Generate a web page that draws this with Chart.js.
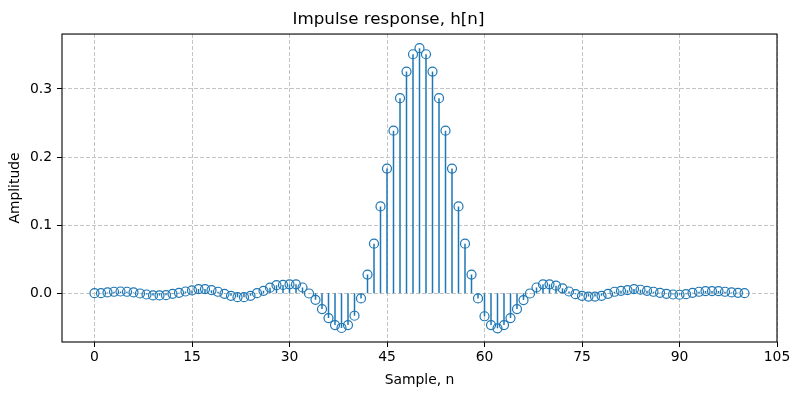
<!DOCTYPE html>
<html>
<head>
<meta charset="utf-8">
<script src="https://cdn.jsdelivr.net/npm/chart.js@4.4.0/dist/chart.umd.min.js"></script>
<style>html,body{margin:0;padding:0;background:#fff}canvas{display:block}</style>
</head>
<body>
<canvas id="c" width="800" height="400" style="width:800px;height:400px"></canvas>
<script>
// sample index n = 0..100
const samples = Array.from({length: 101}, (_, i) => i);
// h[n]
const amplitude = [
  0.0000, 0.0000, 0.0010, 0.0020, 0.0024, 0.0020, 0.0010, -0.0005, -0.0020, -0.0034,
  -0.0034, -0.0030, -0.0010, 0.0005, 0.0024, 0.0040, 0.0060, 0.0060, 0.0044, 0.0020,
  -0.0010, -0.0040, -0.0060, -0.0060, -0.0040, 0.0000, 0.0034, 0.0080, 0.0117, 0.0120,
  0.0130, 0.0130, 0.0083, -0.0005, -0.0098, -0.0234, -0.0366, -0.0469, -0.0512, -0.0469,
  -0.0332, -0.0078, 0.0272, 0.0727, 0.1274, 0.1830, 0.2387, 0.2865, 0.3255, 0.3510,
  0.3600,
  0.3510, 0.3255, 0.2865, 0.2387, 0.1830, 0.1274, 0.0727, 0.0272, -0.0078, -0.0340,
  -0.0470, -0.0517, -0.0470, -0.0366, -0.0234, -0.0102, -0.0005, 0.0083, 0.0130, 0.0130,
  0.0110, 0.0070, 0.0024, -0.0015, -0.0040, -0.0050, -0.0050, -0.0040, -0.0010, 0.0020,
  0.0034, 0.0044, 0.0060, 0.0050, 0.0034, 0.0020, 0.0005, -0.0010, -0.0020, -0.0024,
  -0.0015, 0.0005, 0.0020, 0.0030, 0.0030, 0.0030, 0.0020, 0.0010, 0.0005, 0.0000
];
const xTicks = [0, 15, 30, 45, 60, 75, 90, 105];
const yTicks = [0.0, 0.1, 0.2, 0.3];

const BLUE = '#1f77b4';
const FONT = 'DejaVu Sans';
const tickFont = {family: FONT, size: 13.9, weight: 'normal', lineHeight: 1.2};

const markerData = samples.map((n, i) => ({x: n, y: amplitude[i]}));
const stemData = samples.flatMap((n, i) => [{x: n, y: 0}, {x: n, y: amplitude[i]}, {x: n, y: null}]);

const framePlugin = {
  id: 'frame',
  afterDatasetsDraw(chart) {
    const {ctx, chartArea: a} = chart;
    ctx.save();
    ctx.strokeStyle = '#000';
    ctx.lineWidth = 1.1;
    ctx.strokeRect(a.left, a.top, a.right - a.left, a.bottom - a.top);
    ctx.restore();
  }
};

new Chart(document.getElementById('c'), {
  type: 'scatter',
  data: {
    datasets: [
      {
        type: 'scatter',
        label: 'markers',
        data: markerData,
        order: 0,
        pointStyle: 'circle',
        pointRadius: 4.5,
        pointBorderWidth: 1.2,
        borderColor: BLUE,
        pointBorderColor: BLUE,
        backgroundColor: 'rgba(0,0,0,0)',
        pointBackgroundColor: 'rgba(0,0,0,0)'
      },
      {
        type: 'line',
        label: 'stems',
        data: stemData,
        order: 1,
        borderColor: BLUE,
        borderWidth: 1.5,
        pointRadius: 0,
        spanGaps: false,
        fill: false,
        tension: 0
      }
    ]
  },
  options: {
    responsive: false,
    animation: false,
    devicePixelRatio: 1,
    layout: {padding: {left: 0, right: 23, top: 0, bottom: 0}},
    plugins: {
      legend: {display: false},
      tooltip: {enabled: false},
      title: {
        display: true,
        text: 'Impulse response, h[n]',
        color: '#000',
        font: {family: FONT, size: 16.7, weight: 'normal', lineHeight: 1.2},
        padding: {top: 10, bottom: 4}
      }
    },
    scales: {
      x: {
        type: 'linear',
        min: -5,
        max: 105,
        afterBuildTicks: s => { s.ticks = xTicks.map(v => ({value: v})); },
        afterFit: s => { s.height = 58; },
        grid: {color: '#c4c4c4', lineWidth: 1, drawTicks: true, tickLength: 5, tickColor: '#000', tickWidth: 1, tickBorderDash: []},
        border: {display: false, dash: [4, 2]},
        ticks: {color: '#000', font: tickFont, padding: 2, maxRotation: 0, autoSkip: false, callback: v => String(v)},
        title: {display: true, text: 'Sample, n', color: '#000', font: tickFont, padding: {top: 0, bottom: 11}}
      },
      y: {
        type: 'linear',
        min: -0.0718,
        max: 0.3807,
        afterBuildTicks: s => { s.ticks = yTicks.map(v => ({value: v})); },
        afterFit: s => { s.width = 62; },
        grid: {color: '#c4c4c4', lineWidth: 1, drawTicks: true, tickLength: 5, tickColor: '#000', tickWidth: 1, tickBorderDash: []},
        border: {display: false, dash: [4, 2]},
        ticks: {color: '#000', font: tickFont, padding: 5, autoSkip: false, callback: v => Number(v).toFixed(1)},
        title: {display: true, text: 'Amplitude', color: '#000', font: tickFont, padding: {top: 7, bottom: 0}}
      }
    }
  },
  plugins: [framePlugin]
});
</script>
</body>
</html>
